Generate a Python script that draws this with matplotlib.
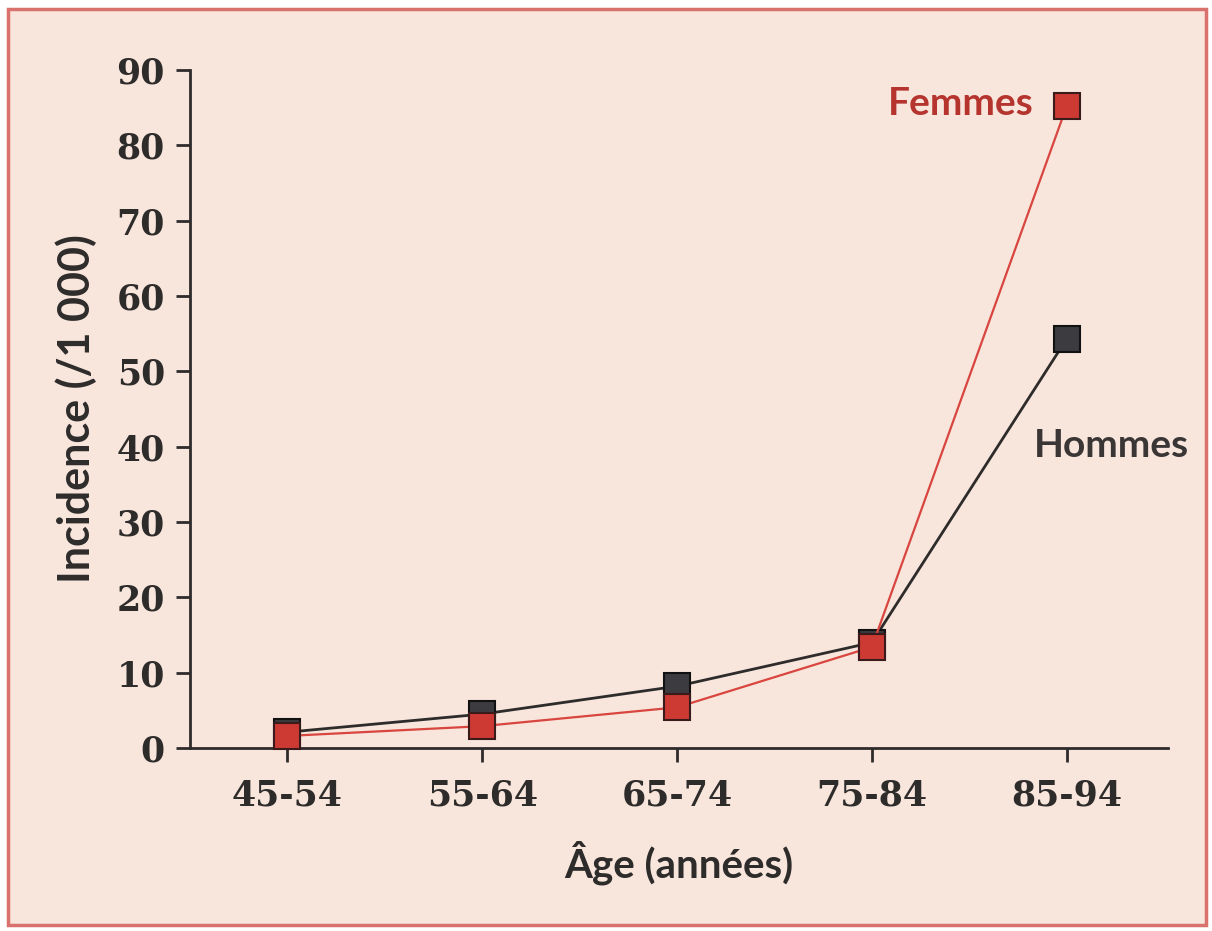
import matplotlib
matplotlib.use("Agg")
import matplotlib.pyplot as plt
from matplotlib.patches import Rectangle

# Data
age_groups = ["45-54", "55-64", "65-74", "75-84", "85-94"]
hommes = [2.1, 4.5, 8.2, 14.0, 54.3]
femmes = [1.6, 2.9, 5.4, 13.4, 85.2]
y_ticks = [0, 10, 20, 30, 40, 50, 60, 70, 80, 90]

bg = "#f8e6dc"
dark = "#2e2b2b"
red = "#cc3a33"
sans = ["Lato", "DejaVu Sans"]

plt.rcParams["font.family"] = ["DejaVu Serif"]
plt.rcParams["font.weight"] = "bold"

fig = plt.figure(figsize=(12.12, 9.31), dpi=100)
fig.patch.set_facecolor("white")
frame = Rectangle((8 / 1212, 6 / 931), 1198 / 1212, 916 / 931,
                  transform=fig.transFigure, facecolor=bg,
                  edgecolor="#d9726c", linewidth=2.5, zorder=-10)
fig.patches.append(frame)

ax = fig.add_axes([190 / 1212, 1 - 748 / 931, (1168 - 190) / 1212, (748 - 70) / 931])
ax.set_facecolor("none")
ax.set_zorder(5)

x = range(len(age_groups))
ax.plot(x, hommes, color=dark, lw=2, marker="s", ms=18.5,
        mfc="#3b3b40", mec="#111111", mew=1.5, zorder=3, clip_on=False)
ax.plot(x, femmes, color="#d9453f", lw=1.6, marker="s", ms=18.5,
        mfc=red, mec="#3a1a1a", mew=1.5, zorder=4, clip_on=False)

ax.set_xlim(-0.5, 4.52)
ax.set_ylim(0, 90)
ax.set_xticks(list(x))
ax.set_xticklabels(age_groups)
ax.set_yticks(y_ticks)

for side in ["top", "right"]:
    ax.spines[side].set_visible(False)
for side in ["left", "bottom"]:
    ax.spines[side].set_color(dark)
    ax.spines[side].set_linewidth(2)

ax.tick_params(axis="both", colors=dark, width=2, length=10, labelsize=25)
ax.tick_params(axis="y", pad=8)
ax.tick_params(axis="x", pad=12)

ax.set_xlabel("Âge (années)", fontsize=29, color=dark, labelpad=20,
              fontweight="bold", fontfamily=sans)
ax.set_ylabel("Incidence (/1 000)", fontsize=31, color=dark, labelpad=14,
              fontweight="bold", fontfamily=sans)

ax.text(3.83, femmes[4] + 0.3, "Femmes", color="#b5342e", fontsize=28,
        ha="right", va="center", fontfamily=sans)
ax.text(4.63, 40.2, "Hommes", color="#3a3636", fontsize=28,
        ha="right", va="center", fontfamily=sans, clip_on=False)

fig.savefig("out.png", dpi=100, facecolor=fig.get_facecolor())
